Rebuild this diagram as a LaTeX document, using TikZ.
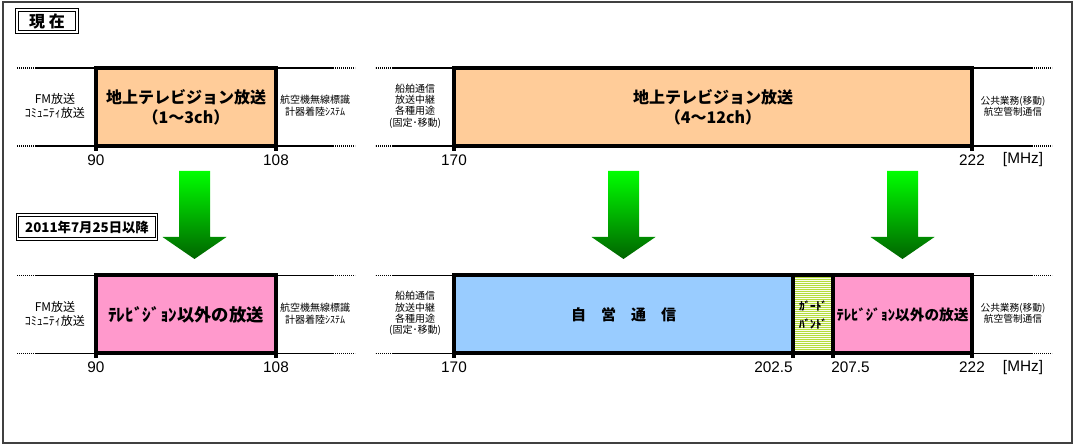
\documentclass[tikz,border=0pt]{standalone}
\usepackage{fontspec}
\usepackage{xcolor}
\usetikzlibrary{positioning}
\newfontfamily\jp{Noto Sans CJK JP}
\newfontfamily\numfont{Liberation Sans}
\definecolor{bandorange}{HTML}{FFCC99}
\definecolor{bandpink}{HTML}{FF99CC}
\definecolor{bandblue}{HTML}{99CCFF}
\definecolor{guardgreen}{HTML}{B4DC3C}
\definecolor{guardlight}{HTML}{FAFDEE}
\definecolor{arrowtop}{HTML}{00FF00}
\definecolor{arrowbot}{HTML}{006400}
\definecolor{framegray}{HTML}{404040}

\begin{document}
\begin{tikzpicture}[x=0.75pt,y=-0.75pt,
    bandbox/.style={draw,line width=3pt,inner sep=0pt,outer sep=0pt,
	minimum height=58.5pt,align=center},
    axisline/.style={line width=1.2pt},
    dotline/.style={line width=1.2pt,dash pattern=on 0.8pt off 0.7pt},
    tick/.style={line width=3pt},
    sidelabel/.style={align=center,inner sep=0pt},
    freq/.style={font=\numfont\fontsize{11.5}{12}\selectfont,inner sep=0pt},
    titlebox/.style={draw,line width=0.7pt,double,double distance=1.2pt,
	inner sep=0pt},
    greenarrow/.style={top color=arrowtop,bottom color=arrowbot}]
    \useasboundingbox (0,0) rectangle (1079,448);
    \draw [framegray,line width=1pt] (3,2) rectangle (1072,443);

    \path (47,21) node [titlebox,minimum width=45pt,minimum height=16.5pt,
	font=\jp\bfseries\fontsize{12}{14}\selectfont] (now) {現 在};

    \path (186,107) node [bandbox,fill=bandorange,minimum width=135pt,
	font=\jp\bfseries\fontsize{12}{15}\selectfont] (ta)
	{地上テレビジョン放送\\（1～3ch）};
    \path (713,107) node [bandbox,fill=bandorange,minimum width=388.5pt,
	font=\jp\bfseries\fontsize{12}{15}\selectfont] (tb)
	{地上テレビジョン放送\\（4～12ch）};

    \draw [axisline] (ta.north west) -- ++(-60,0) coordinate (tanw);
    \draw [dotline] (tanw) -- ++(-19,0);
    \draw [axisline] (ta.south west) -- ++(-60,0) coordinate (tasw);
    \draw [dotline] (tasw) -- ++(-19,0);
    \draw [axisline] (ta.north east) -- ++(57,0) coordinate (tane);
    \draw [dotline] (tane) -- ++(22,0);
    \draw [axisline] (ta.south east) -- ++(57,0) coordinate (tase);
    \draw [dotline] (tase) -- ++(22,0);
    \draw [axisline] (tb.north west) -- ++(-61,0) coordinate (tbnw);
    \draw [dotline] (tbnw) -- ++(-18,0);
    \draw [axisline] (tb.south west) -- ++(-61,0) coordinate (tbsw);
    \draw [dotline] (tbsw) -- ++(-18,0);
    \draw [axisline] (tb.north east) -- ++(60,0) coordinate (tbne);
    \draw [dotline] (tbne) -- ++(20,0);
    \draw [axisline] (tb.south east) -- ++(60,0) coordinate (tbse);
    \draw [dotline] (tbse) -- ++(20,0);

    \path (55,106) node [sidelabel,font=\jp\fontsize{9}{10.5}\selectfont]
	(tfm) {FM放送\\ｺﾐｭﾆﾃｨ放送};
    \path (315,106) node [sidelabel,font=\jp\fontsize{7.5}{9}\selectfont]
	(tair) {航空機無線標識\\計器着陸ｼｽﾃﾑ};
    \path (415,106) node [sidelabel,font=\jp\fontsize{7.5}{8.5}\selectfont]
	(tship) {船舶通信\\放送中継\\各種用途\\(固定･移動)};
    \path (1013,106) node [sidelabel,font=\jp\fontsize{7.3}{8.25}\selectfont]
	(tpub) {公共業務(移動)\\航空管制通信};

    \draw [tick] (ta.south west) -- ++(0,5);
    \draw [tick] (ta.south east) -- ++(0,5);
    \draw [tick] (tb.south west) -- ++(0,5);
    \draw [tick] (tb.south east) -- ++(0,5);
    \path (ta.south west) ++(0,14) node [freq] (t90) {90};
    \path (ta.south east) ++(0,14) node [freq] (t108) {108};
    \path (tb.south west) ++(0,14) node [freq] (t170) {170};
    \path (tb.south east) ++(0,14) node [freq] (t222) {222};
    \path (tb.south east) ++(51,14) node [freq] (tmhz) {[MHz]};

    \shade [greenarrow] (179,171) -- ++(31,0) -- ++(0,66) -- ++(16.5,0)
	-- ++(-32,22) -- ++(-32,-22) -- ++(16.5,0) -- cycle;
    \shade [greenarrow] (608,171) -- ++(31,0) -- ++(0,66) -- ++(16.5,0)
	-- ++(-32,22) -- ++(-32,-22) -- ++(16.5,0) -- cycle;
    \shade [greenarrow] (887,171) -- ++(31,0) -- ++(0,66) -- ++(16.5,0)
	-- ++(-32,22) -- ++(-32,-22) -- ++(16.5,0) -- cycle;

    \path (87,227) node [titlebox,minimum width=104pt,minimum height=18pt,
	font=\jp\bfseries\fontsize{10}{12}\selectfont] (after)
	{2011年7月25日以降};

    \path (186,314.5) node [bandbox,fill=bandpink,minimum width=135pt,
	font=\jp\bfseries\fontsize{13}{15}\selectfont] (ba)
	{ﾃﾚﾋﾞｼﾞｮﾝ以外の放送};
    \path (623.5,314.5) node [bandbox,fill=bandblue,minimum width=254.25pt,
	font=\jp\bfseries\fontsize{11.25}{14}\selectfont] (bb1)
	{自　営　通　信};
    \node [bandbox,fill=guardlight,right=0pt of bb1,minimum width=30pt] (bg)
	{};
    \node [bandbox,fill=bandpink,right=0pt of bg,minimum width=104.25pt,
	font=\jp\bfseries\fontsize{11}{14}\selectfont] (bb2)
	{ﾃﾚﾋﾞｼﾞｮﾝ以外の放送};
    \begin{scope}
	\clip (bg.south west) rectangle (bg.north east);
	\foreach \k in {1,...,39}
	    \draw [guardgreen,line width=0.75pt]
		([yshift=-\k*1.5pt]bg.north west) -- ([yshift=-\k*1.5pt]bg.north east);
    \end{scope}
    \draw [line width=3pt] (bg.south west) rectangle (bg.north east);
    \path (bg) node [align=center,inner sep=0pt,
	font=\jp\bfseries\fontsize{8.4}{13.5}\selectfont] (bgtext)
	{ｶﾞｰﾄﾞ\\ﾊﾞﾝﾄﾞ};

    \draw [axisline] (ba.north west) -- ++(-60,0) coordinate (banw);
    \draw [dotline] (banw) -- ++(-19,0);
    \draw [axisline] (ba.south west) -- ++(-60,0) coordinate (basw);
    \draw [dotline] (basw) -- ++(-19,0);
    \draw [axisline] (ba.north east) -- ++(57,0) coordinate (bane);
    \draw [dotline] (bane) -- ++(22,0);
    \draw [axisline] (ba.south east) -- ++(57,0) coordinate (base);
    \draw [dotline] (base) -- ++(22,0);
    \draw [axisline] (bb1.north west) -- ++(-61,0) coordinate (bbnw);
    \draw [dotline] (bbnw) -- ++(-18,0);
    \draw [axisline] (bb1.south west) -- ++(-61,0) coordinate (bbsw);
    \draw [dotline] (bbsw) -- ++(-18,0);
    \draw [axisline] (bb2.north east) -- ++(60,0) coordinate (bbne);
    \draw [dotline] (bbne) -- ++(20,0);
    \draw [axisline] (bb2.south east) -- ++(60,0) coordinate (bbse);
    \draw [dotline] (bbse) -- ++(20,0);

    \path (55,313.5) node [sidelabel,font=\jp\fontsize{9}{10.5}\selectfont]
	(bfm) {FM放送\\ｺﾐｭﾆﾃｨ放送};
    \path (315,313.5) node [sidelabel,font=\jp\fontsize{7.5}{9}\selectfont]
	(bair) {航空機無線標識\\計器着陸ｼｽﾃﾑ};
    \path (415,313.5) node [sidelabel,font=\jp\fontsize{7.5}{8.5}\selectfont]
	(bship) {船舶通信\\放送中継\\各種用途\\(固定･移動)};
    \path (1013,313.5) node [sidelabel,font=\jp\fontsize{7.3}{8.25}\selectfont]
	(bpub) {公共業務(移動)\\航空管制通信};

    \draw [tick] (ba.south west) -- ++(0,5);
    \draw [tick] (ba.south east) -- ++(0,5);
    \draw [tick] (bb1.south west) -- ++(0,5);
    \draw [tick] (bb1.south east) -- ++(0,5);
    \draw [tick] (bg.south east) -- ++(0,5);
    \draw [tick] (bb2.south east) -- ++(0,5);
    \path (ba.south west) ++(0,14) node [freq] (b90) {90};
    \path (ba.south east) ++(0,14) node [freq] (b108) {108};
    \path (bb1.south west) ++(0,14) node [freq] (b170) {170};
    \path (bb1.south east) ++(0,14) node [freq,anchor=east] (b2025) {202.5};
    \path (bg.south east) ++(-2,14) node [freq,anchor=west] (b2075) {207.5};
    \path (bb2.south east) ++(0,14) node [freq] (b222) {222};
    \path (bb2.south east) ++(51,14) node [freq] (bmhz) {[MHz]};
\end{tikzpicture}
\end{document}
